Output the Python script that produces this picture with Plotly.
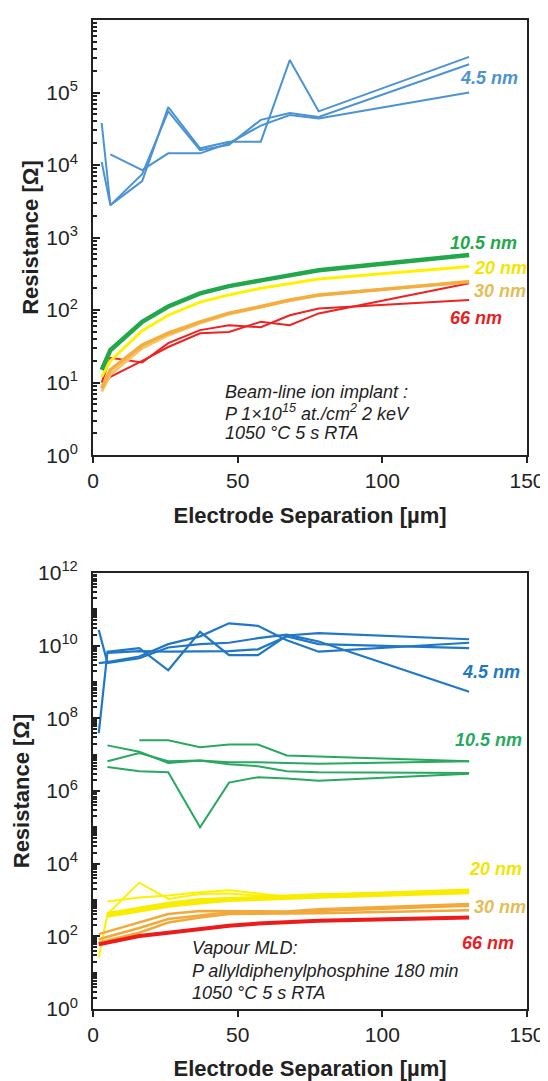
import plotly.graph_objects as go

FONT = "Liberation Sans, Arial, sans-serif"

# ---------------- Top panel: beam-line ion implant ----------------
x_top = [3, 6, 17, 26, 37, 47, 58, 68, 78, 130]
top_blue_1 = [3.8e4, 2.8e3, 6.0e3, 6.3e4, 1.7e4, 2.1e4, 2.1e4, 2.8e5, 5.5e4, 3.1e5]
top_blue_2 = [1.1e4, 2.8e3, 7.5e3, 5.5e4, 1.6e4, 1.9e4, 4.2e4, 5.2e4, 4.6e4, 2.45e5]
top_blue_3 = [None, 1.4e4, 8.5e3, 1.45e4, 1.45e4, 2.0e4, 3.5e4, 4.9e4, 4.4e4, 1.0e5]
top_green = [15, 28, 69, 112, 170, 214, 257, 302, 355, 575]
top_yellow = [12, 20, 52, 85, 129, 162, 200, 234, 269, 398]
top_orange_1 = [8.3, 15, 33, 48, 69, 91, 112, 138, 162, 245]
top_orange_2 = [7.5, 13, 30, 45, 66, 88, 110, 135, 160, 250]
top_red_1 = [10, 22, 19, 35, 53, 62, 58, 85, 105, 138]
top_red_2 = [9, 12, 20, 31, 48, 50, 69, 62, 90, 235]

# ---------------- Bottom panel: vapour MLD ----------------
x_bot = [2, 5, 16, 26, 37, 47, 57, 67, 78, 130]
bot_blue_1 = [2.7e10, 3.3e9, 4.5e9, 8.9e9, 1.1e10, 1.2e10, 1.6e10, 2.0e10, 1.3e10, 5.4e8]
bot_blue_2 = [3.9e7, 6.8e9, 8.5e9, 2.1e9, 2.4e10, 5.5e9, 5.5e9, 1.9e10, 2.2e10, 1.5e10]
bot_blue_3 = [3.3e9, 3.5e9, 5.0e9, 1.1e10, 1.8e10, 4.1e10, 3.5e10, 1.4e10, 6.8e9, 1.2e10]
bot_blue_4 = [None, 6.3e9, 7.1e9, 6.8e9, 6.8e9, 7.1e9, 7.9e9, 1.8e10, 1.1e10, 8.5e9]
bot_green_1 = [None, None, 2.5e7, 2.5e7, 1.6e7, 1.9e7, 1.9e7, 9.5e6, 8.9e6, 6.6e6]
bot_green_2 = [None, 1.8e7, 1.2e7, 5.9e6, 6.9e6, 5.4e6, 4.8e6, 3.5e6, 3.3e6, 3.1e6]
bot_green_3 = [None, 6.6e6, 1.1e7, 6.6e6, 6.9e6, 6.2e6, 6.2e6, 5.9e6, 5.6e6, 6.6e6]
bot_green_4 = [None, 4.6e6, 3.5e6, 3.3e6, 1.0e5, 1.7e6, 2.4e6, 2.2e6, 1.9e6, 3.0e6]
bot_yellow_1 = [26, 410, 3000, 1070, 1450, 1510, 1320, 1320, 1450, 1620]
bot_yellow_2 = [None, 910, 1170, 1320, 1620, 1860, 1510, 1230, 1380, 1860]
bot_yellow_3 = [None, 410, 560, 790, 1000, 1070, 1120, 1230, 1320, 1820]
bot_yellow_4 = [None, 370, 500, 690, 850, 1000, 1070, 1150, 1230, 1620]
bot_orange_1 = [115, None, 240, 410, 500, 500, 500, 480, 560, 780]
bot_orange_2 = [83, None, 170, 300, 370, 460, 480, 460, 500, 690]
bot_orange_3 = [68, None, 126, 240, 330, 410, 410, 410, 430, 520]
bot_red = [60, 68, 102, 126, 158, 195, 224, 240, 270, 330]

x_ticks = [0, 50, 100, 150]
top_exponents = [0, 1, 2, 3, 4, 5, 6]
bot_exponents = [0, 2, 4, 6, 8, 10, 12]

fig = go.Figure()


def add(x, y, color, width, xa, ya):
    fig.add_trace(go.Scatter(x=x, y=y, mode="lines", connectgaps=True,
                             line=dict(color=color, width=width),
                             xaxis=xa, yaxis=ya, showlegend=False,
                             hoverinfo="skip"))


# top traces
for s in (top_blue_1, top_blue_2, top_blue_3):
    add(x_top, s, "#4B93D3", 2, "x", "y")
add(x_top, top_red_1, "#EE2222", 2, "x", "y")
add(x_top, top_red_2, "#EE2222", 2, "x", "y")
add(x_top, top_orange_2, "#F8C468", 3, "x", "y")
add(x_top, top_orange_1, "#F3AE3E", 3.5, "x", "y")
add(x_top, top_yellow, "#FFF200", 3, "x", "y")
add(x_top, top_green, "#22A84A", 4.5, "x", "y")

# bottom traces
for s in (bot_blue_1, bot_blue_2, bot_blue_3, bot_blue_4):
    add(x_bot, s, "#1F77C6", 2.2, "x2", "y2")
for s in (bot_green_1, bot_green_2, bot_green_3, bot_green_4):
    add(x_bot, s, "#28A860", 2, "x2", "y2")
add(x_bot, bot_yellow_1, "#FFF000", 2, "x2", "y2")
add(x_bot, bot_yellow_2, "#FFF000", 2, "x2", "y2")
add(x_bot, bot_yellow_3, "#F8EC00", 4, "x2", "y2")
add(x_bot, bot_yellow_4, "#F8EC00", 4, "x2", "y2")
for s in (bot_orange_1, bot_orange_2, bot_orange_3):
    add(x_bot, s, "#F2A93B", 2.5, "x2", "y2")
add(x_bot, bot_red, "#EE1B1B", 4, "x2", "y2")

axis_common = dict(showline=True, linecolor="#222", linewidth=2, mirror=True,
                   showgrid=False, zeroline=False, automargin=False,
                   tickfont=dict(family=FONT, size=21, color="#222"))

xax = dict(axis_common, range=[0, 150], tickvals=x_ticks, ticks="outside",
           ticklen=6, tickwidth=2, tickcolor="#222",
           title=dict(text="<b>Electrode Separation [µm]</b>",
                      font=dict(family=FONT, size=22, color="#222"), standoff=16))

yax_common = dict(axis_common, type="log", ticks="inside", ticklen=7, tickwidth=2,
                  tickcolor="#222", ticklabelstandoff=9,
                  minor=dict(ticks="inside", ticklen=4, tickwidth=1.5,
                             tickcolor="#222", dtick="D1"),
                  title=dict(text="<b>Resistance [Ω]</b>",
                             font=dict(family=FONT, size=22, color="#222"), standoff=2))

fig.update_layout(
    width=540, height=1073,
    margin=dict(l=85, r=21, t=12, b=72),
    paper_bgcolor="white", plot_bgcolor="white",
    xaxis=dict(xax, domain=[0, 1], anchor="y"),
    yaxis=dict(yax_common, domain=[0.560, 1], range=[0, 6], anchor="x",
               tickvals=[10 ** e for e in top_exponents],
               ticktext=["10<sup>%d</sup>" % e for e in top_exponents]),
    xaxis2=dict(xax, domain=[0, 1], anchor="y2"),
    yaxis2=dict(yax_common, domain=[0, 0.4409], range=[0, 12], anchor="x2",
                tickvals=[10 ** e for e in bot_exponents],
                ticktext=["10<sup>%d</sup>" % e for e in bot_exponents]),
)

anns = []


def lab(text, x, y, color, xr, yr, size=18):
    anns.append(dict(text="<b><i>" + text + "</i></b>", x=x, y=y, xref=xr, yref=yr,
                     xanchor="left", yanchor="middle", showarrow=False,
                     font=dict(family=FONT, size=size, color=color)))


def note(text, x, y, xr, yr):
    anns.append(dict(text="<i>" + text + "</i>", x=x, y=y, xref=xr, yref=yr,
                     xanchor="left", yanchor="middle", showarrow=False,
                     font=dict(family=FONT, size=18, color="#222")))


lab("4.5 nm", 126.2, 5.2, "#4B93D3", "x", "y")
lab("10.5 nm", 122.7, 2.92, "#22A84A", "x", "y")
lab("20 nm", 130.9, 2.58, "#F2E500", "x", "y")
lab("30 nm", 130.9, 2.26, "#E3BD55", "x", "y")
lab("66 nm", 122.7, 1.89, "#E81E25", "x", "y")
note("Beam-line ion implant :", 45, 0.87, "x", "y")
note("P 1×10<sup>15</sup> at./cm<sup>2</sup> 2 keV", 45, 0.59, "x", "y")
note("1050 °C 5 s RTA", 45, 0.30, "x", "y")

lab("4.5 nm", 126.9, 9.27, "#1F77C6", "x2", "y2")
lab("10.5 nm", 124.4, 7.39, "#28A860", "x2", "y2")
lab("20 nm", 129.1, 3.86, "#F2E500", "x2", "y2")
lab("30 nm", 130.9, 2.81, "#E3BD55", "x2", "y2")
lab("66 nm", 126.9, 1.82, "#E81E25", "x2", "y2")
note("Vapour MLD:", 33.5, 1.68, "x2", "y2")
note("P allyldiphenylphosphine 180 min", 33.5, 1.05, "x2", "y2")
note("1050 °C 5 s RTA", 33.5, 0.45, "x2", "y2")

fig.update_layout(annotations=anns)
fig.write_html("out.html")
